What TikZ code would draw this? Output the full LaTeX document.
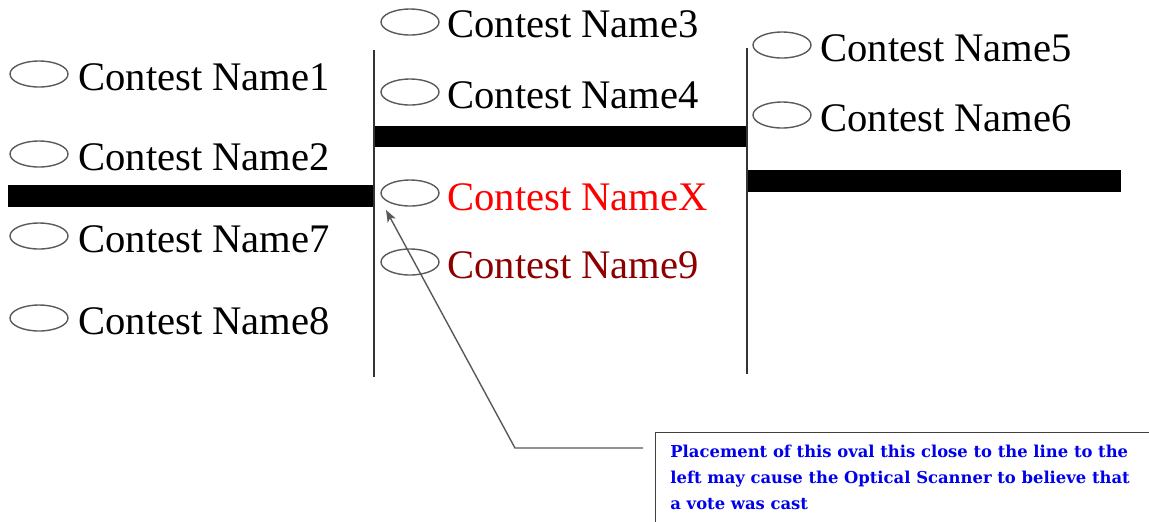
\documentclass[tikz,border=0pt]{standalone}
\usepackage{fontspec}
\setmainfont{Liberation Serif}
\newfontfamily\notefont{DejaVu Serif}
\usetikzlibrary{arrows.meta,shapes.geometric}
\definecolor{ovalgray}{RGB}{90,90,90}
\definecolor{nineRed}{RGB}{140,0,0}
\definecolor{noteblue}{RGB}{0,0,235}
\begin{document}
\begin{tikzpicture}[x=0.5pt,y=-0.5pt,
  oval/.style={ellipse, draw=ovalgray, line width=0.7pt, minimum width=29pt, minimum height=13pt, inner sep=0pt},
  cname/.style={anchor=base west, inner sep=0pt, font=\fontsize{20.3}{24}\selectfont},
  bar/.style={fill=black},
  rulestyle/.style={draw=black!80, line width=0.75pt},
  callout/.style={draw=black!65, line width=0.7pt, -{Stealth[length=6pt,width=4.5pt,inset=1.5pt]}},
  notebox/.style={draw=black!75, line width=0.6pt, anchor=north west, minimum width=260pt, minimum height=60pt, inner sep=0pt},
  notetext/.style={anchor=north west, inner sep=0pt, align=left, text=noteblue, font=\notefont\bfseries\fontsize{8.2}{13}\selectfont}]
\useasboundingbox (0,0) rectangle (1149,521);
\clip (0,0) rectangle (1149,521);
% thick bars
\fill[bar] (8,185) rectangle (374,207);
\fill[bar] (374,126) rectangle (748,147);
\fill[bar] (748,170) rectangle (1121,192);
% vertical rules
\draw[rulestyle] (374,50) -- (374,377);
\draw[rulestyle] (747,48) -- (747,374);
% left column
\node[oval] (ov1) at (39,74) {};
\node[cname] (n1) at (78,90) {Contest Name1};
\node[oval] (ov2) at (39,154) {};
\node[cname] (n2) at (78,170) {Contest Name2};
\node[oval] (ov7) at (39,236) {};
\node[cname] (n7) at (78,252) {Contest Name7};
\node[oval] (ov8) at (39,318) {};
\node[cname] (n8) at (78,334) {Contest Name8};
% middle column
\node[oval] (ov3) at (410,22) {};
\node[cname] (n3) at (447,37) {Contest Name3};
\node[oval] (ov4) at (410,92) {};
\node[cname] (n4) at (447,108) {Contest Name4};
\node[oval] (ovX) at (410,193) {};
\node[cname, text=red] (nX) at (447,210) {Contest NameX};
\node[oval] (ov9) at (410,262) {};
\node[cname, text=nineRed] (n9) at (447,278) {Contest Name9};
% right column
\node[oval] (ov5) at (782,45) {};
\node[cname] (n5) at (820,61) {Contest Name5};
\node[oval] (ov6) at (782,115) {};
\node[cname] (n6) at (820,131) {Contest Name6};
% callout
\node[notebox] (box) at (655,432) {};
\node[notetext] (note) at (670,445) {Placement of this oval this close to the line to the\\left may cause the Optical Scanner to believe that\\a vote was cast};
\coordinate (bend) at (515,448);
\coordinate (tip) at (386,210);
\draw[callout] ([shift={(-12,16)}]box.north west) -- (bend) -- (tip);
\end{tikzpicture}
\end{document}
